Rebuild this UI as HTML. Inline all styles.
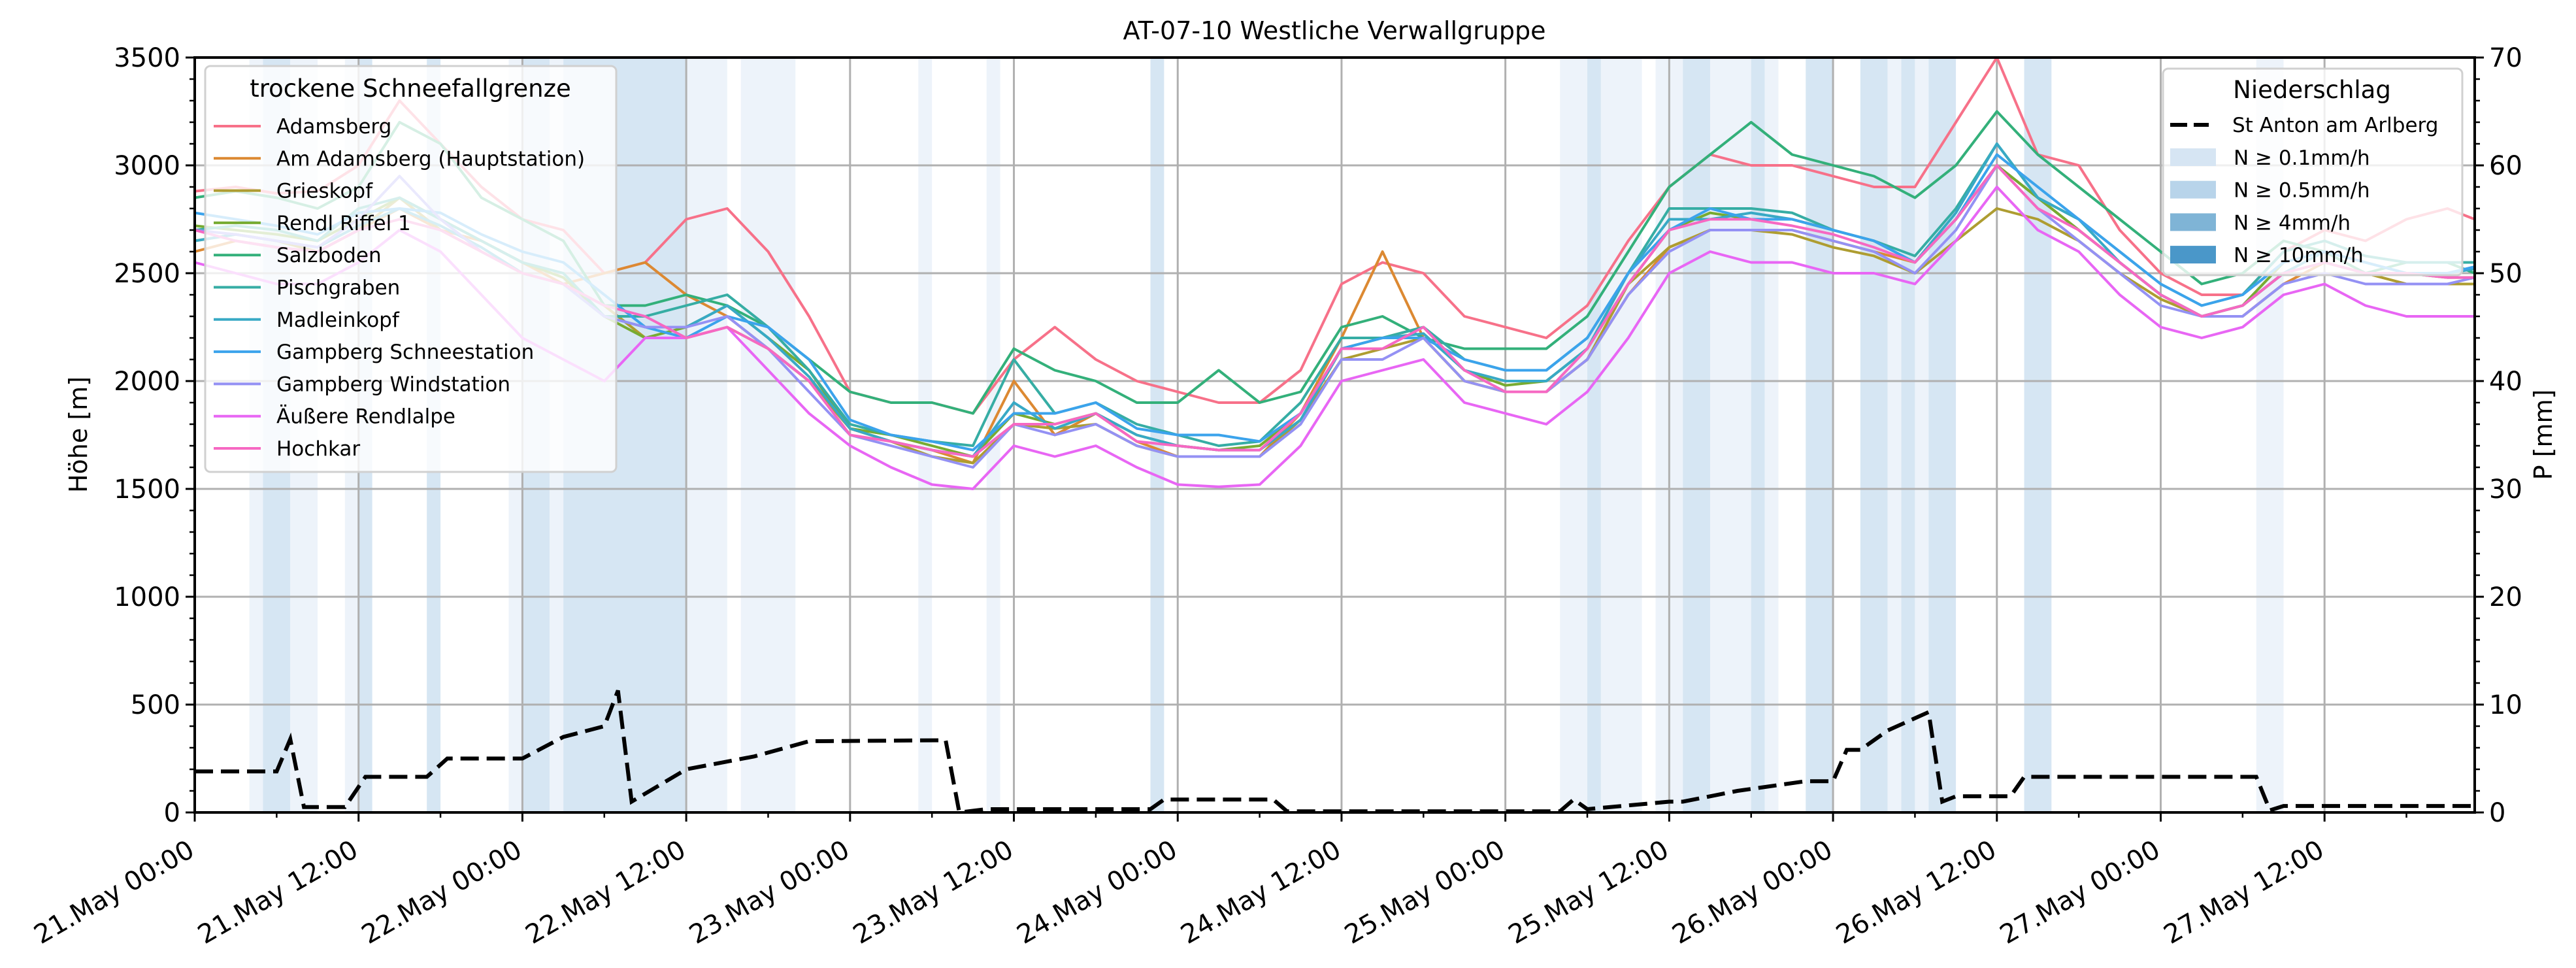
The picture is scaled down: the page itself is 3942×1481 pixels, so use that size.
<!DOCTYPE html>
<html><head><meta charset="utf-8"><style>
html,body{margin:0;padding:0;background:#fff;}
svg{display:block;font-family:"DejaVu Sans","Liberation Sans",sans-serif;}
</style></head><body>
<svg id="chart" width="3942" height="1481" viewBox="0 0 3942 1481" xmlns="http://www.w3.org/2000/svg">
<rect width="3942" height="1481" fill="#fff"/>
<g id="bands"></g>
<g id="grid"></g>
<g id="series"></g>
<g id="axes"></g>
<text x="2042" y="60" font-size="38" text-anchor="middle">AT-07-10 Westliche Verwallgruppe</text>
<text transform="translate(133,665) rotate(-90)" font-size="38" text-anchor="middle">Höhe [m]</text>
<text transform="translate(3905,665) rotate(-90)" font-size="38" text-anchor="middle">P [mm]</text>
<g id="legend1"></g>
<g id="legend2"></g>
</svg>
<script>
const hours = [0,3,6,9,12,15,18,21,24,27,30,33,36,39,42,45,48,51,54,57,60,63,66,69,72,75,78,81,84,87,90,93,96,99,102,105,108,111,114,117,120,123,126,129,132,135,138,141,144,147,150,153,156,159,162,165,168];
const stations = ["Adamsberg","Am Adamsberg (Hauptstation)","Grieskopf","Rendl Riffel 1","Salzboden","Pischgraben","Madleinkopf","Gampberg Schneestation","Gampberg Windstation","Äußere Rendlalpe","Hochkar"];
const colors = ["#f77189","#dc8932","#ae9d31","#77ab31","#33b07a","#36ada4","#38a9c5","#3ba3ec","#9491f4","#e866f4","#f668c2"];
const sAdamsberg = [2880,2900,2870,2880,3000,3300,3100,2900,2750,2700,2500,2550,2750,2800,2600,2300,1950,1900,1900,1850,2100,2250,2100,2000,1950,1900,1900,2050,2450,2550,2500,2300,2250,2200,2350,2650,2900,3050,3000,3000,2950,2900,2900,3200,3500,3050,3000,2700,2500,2400,2400,2600,2700,2650,2750,2800,2750];
const sAmAdamsberg = [2600,2650,2620,2600,2700,2800,2700,2650,2550,2450,2500,2550,2400,2300,2150,2000,1780,1720,1680,1620,2000,1750,1850,1720,1650,1650,1650,1850,2200,2600,2200,2000,1950,1950,2100,2400,2620,2700,2700,2700,2650,2600,2550,2750,3000,2850,2700,2550,2400,2300,2300,2450,2550,2500,2450,2450,2450];
const sGrieskopf = [2650,2680,2650,2600,2700,2850,2700,2600,2500,2450,2350,2200,2200,2250,2150,2000,1780,1720,1650,1620,1800,1780,1800,1700,1650,1650,1650,1820,2100,2150,2200,2000,1950,1950,2100,2450,2620,2700,2700,2680,2620,2580,2500,2650,2800,2750,2650,2500,2380,2300,2350,2500,2550,2500,2450,2450,2450];
const sRendlRiffel = [2720,2700,2680,2650,2750,2850,2750,2650,2550,2480,2300,2200,2250,2350,2200,2050,1780,1750,1700,1650,1850,1800,1850,1750,1700,1680,1700,1850,2150,2200,2250,2050,1980,2000,2150,2450,2700,2780,2750,2750,2700,2650,2550,2750,3000,2850,2700,2550,2400,2300,2350,2550,2600,2550,2500,2480,2480];
const sSalzboden = [2850,2880,2850,2800,2900,3200,3100,2850,2750,2650,2350,2350,2400,2350,2250,2100,1950,1900,1900,1850,2150,2050,2000,1900,1900,2050,1900,1950,2250,2300,2200,2150,2150,2150,2300,2600,2900,3050,3200,3050,3000,2950,2850,3000,3250,3050,2900,2750,2600,2450,2500,2650,2600,2500,2550,2550,2500];
const sPischgraben = [2700,2720,2700,2650,2800,2850,2750,2650,2550,2500,2300,2300,2350,2400,2250,2050,1800,1750,1720,1700,2100,1850,1900,1800,1750,1700,1720,1900,2200,2200,2250,2100,2050,2050,2200,2500,2800,2800,2800,2780,2700,2650,2580,2800,3100,2850,2750,2600,2450,2350,2400,2600,2650,2580,2550,2550,2550];
const sMadleinkopf = [2650,2680,2650,2620,2720,2800,2720,2620,2500,2450,2300,2250,2250,2350,2200,2020,1780,1720,1680,1650,1900,1780,1850,1750,1700,1680,1680,1820,2150,2200,2220,2050,2000,2000,2150,2500,2750,2750,2780,2750,2700,2650,2550,2780,3100,2850,2750,2550,2400,2300,2350,2500,2600,2550,2500,2500,2520];
const sGampbergSchnee = [2780,2750,2720,2680,2780,2800,2780,2680,2600,2550,2400,2250,2200,2300,2250,2100,1820,1750,1720,1680,1850,1850,1900,1780,1750,1750,1720,1850,2150,2200,2200,2100,2050,2050,2200,2500,2700,2800,2750,2750,2700,2650,2550,2750,3050,2900,2750,2600,2450,2350,2400,2550,2600,2550,2500,2500,2530];
const sGampbergWind = [2700,2680,2650,2620,2750,2950,2750,2600,2500,2450,2300,2250,2250,2300,2150,1950,1750,1700,1650,1600,1800,1750,1800,1700,1650,1650,1650,1800,2100,2100,2200,2000,1950,1950,2100,2400,2600,2700,2700,2700,2650,2600,2500,2700,3000,2800,2650,2500,2350,2300,2300,2450,2500,2450,2450,2450,2480];
const sRendlalpe = [2550,2500,2450,2450,2550,2700,2600,2400,2200,2100,2000,2200,2200,2250,2050,1850,1700,1600,1520,1500,1700,1650,1700,1600,1520,1510,1520,1700,2000,2050,2100,1900,1850,1800,1950,2200,2500,2600,2550,2550,2500,2500,2450,2650,2900,2700,2600,2400,2250,2200,2250,2400,2450,2350,2300,2300,2300];
const sHochkar = [2700,2650,2620,2600,2700,2750,2700,2600,2500,2450,2350,2300,2200,2250,2150,2000,1750,1720,1680,1650,1800,1800,1850,1720,1700,1680,1680,1850,2150,2150,2250,2050,1950,1950,2150,2450,2700,2750,2750,2720,2680,2620,2550,2750,3000,2800,2700,2550,2400,2300,2350,2500,2550,2500,2500,2480,2480];
const seriesValues = [sAdamsberg,sAmAdamsberg,sGrieskopf,sRendlRiffel,sSalzboden,sPischgraben,sMadleinkopf,sGampbergSchnee,sGampbergWind,sRendlalpe,sHochkar];
const precipT = [0,6,7,8,11,12.5,17,18.5,24,27,30,31,32,34,36,41,45,55,56,58,70,71,79,80,100,101,102,108,109,113,118,120,121,122,124,127,128,129,133,134,151,152,153,167];
const precipV = [3.8,3.8,6.8,0.5,0.5,3.3,3.3,5,5,7,8,11.3,1,2.5,4,5.2,6.6,6.7,0,0.3,0.3,1.2,1.2,0.1,0.1,1.2,0.3,1,1,2,2.9,2.9,5.8,5.8,7.6,9.3,1,1.5,1.5,3.3,3.3,0.2,0.6,0.6];
const bandStart = [4,5,7,11,12,17,23,24,26,27,36,40,53,58,70,100,102,103,107,109,111,114,115,118,122,124,125,126,127,134,151];
const bandEnd   = [5,7,9,12,13,18,24,26,27,36,39,44,54,59,71,102,103,106,109,111,114,115,116,120,124,125,126,127,129,136,153];
const bandLevel = [0,1,0,0,1,1,0,1,0,1,0,0,0,0,1,0,1,0,0,1,0,1,0,1,1,0,1,0,1,1,0];
const yTicks = [0,500,1000,1500,2000,2500,3000,3500];
const y2Ticks = [0,10,20,30,40,50,60,70];
const xTickLabels = ["21.May 00:00","21.May 12:00","22.May 00:00","22.May 12:00","23.May 00:00","23.May 12:00","24.May 00:00","24.May 12:00","25.May 00:00","25.May 12:00","26.May 00:00","26.May 12:00","27.May 00:00","27.May 12:00"];

const L=298,R=3787,T=88,B=1243,XMAX=167,YMAX=3500,PMAX=70;
const xs=t=>L+t*(R-L)/XMAX;
const ys=v=>B-v*(B-T)/YMAX;
const yp=v=>B-v*(B-T)/PMAX;
const NS="http://www.w3.org/2000/svg";
function mk(tag,attrs,parent){const e=document.createElementNS(NS,tag);for(const k in attrs)e.setAttribute(k,attrs[k]);parent.appendChild(e);return e;}
const bandCol=["#edf3fa","#d6e6f3"];
const gB=document.getElementById('bands');
bandStart.forEach((s,i)=>{const r=mk('rect',{x:xs(s),y:T,width:xs(bandEnd[i])-xs(s),height:B-T,fill:bandCol[bandLevel[i]]},gB);

});
const gG=document.getElementById('grid');
xTickLabels.forEach((l,i)=>{const x=xs(i*12);const g=mk('line',{x1:x,x2:x,y1:T,y2:B,stroke:'#b0b0b0','stroke-width':3},gG);

});
yTicks.forEach(v=>{const g=mk('line',{x1:L,x2:R,y1:ys(v),y2:ys(v),stroke:'#b0b0b0','stroke-width':3},gG);

});
const gS=document.getElementById('series');
seriesValues.forEach((vals,i)=>{const d=vals.map((v,j)=>(j?'L':'M')+xs(Math.min(hours[j],XMAX)).toFixed(1)+','+ys(v).toFixed(1)).join('');
const p=mk('path',{d:d,fill:'none',stroke:colors[i],'stroke-width':4,'stroke-linejoin':'round'},gS);

});
const pd=precipT.map((t,j)=>(j?'L':'M')+xs(t).toFixed(1)+','+yp(precipV[j]).toFixed(1)).join('');
const pl=mk('path',{d:pd,fill:'none',stroke:'#000','stroke-width':6,'stroke-dasharray':'28 12'},gS);


const gA=document.getElementById('axes');
mk('rect',{x:L,y:T,width:R-L,height:B-T,fill:'none',stroke:'#000','stroke-width':4},gA);
for(let v=0;v<=YMAX;v+=100){const major=v%500===0;mk('line',{x1:L,x2:L-(major?14:8),y1:ys(v),y2:ys(v),stroke:'#000','stroke-width':major?3:2.5},gA);}
for(let v=0;v<=PMAX;v+=2){const major=v%10===0;mk('line',{x1:R,x2:R+(major?14:8),y1:yp(v),y2:yp(v),stroke:'#000','stroke-width':major?3:2.5},gA);}
for(let t=0;t<=XMAX;t+=6){const major=t%12===0;mk('line',{x1:xs(t),x2:xs(t),y1:B,y2:B+(major?14:8),stroke:'#000','stroke-width':major?3:2.5},gA);}
yTicks.forEach(v=>{const t=mk('text',{x:L-22,y:ys(v)+14,'font-size':40,'text-anchor':'end'},gA);t.textContent=v;

});
y2Ticks.forEach(v=>{const t=mk('text',{x:R+22,y:yp(v)+14,'font-size':40},gA);t.textContent=v;

});
xTickLabels.forEach((l,i)=>{const x=xs(i*12)+2,y=1308;const t=mk('text',{x:x,y:y,'font-size':40,'text-anchor':'end',transform:`rotate(-30 ${x} ${y})`},gA);t.textContent=l;

});
const g1=document.getElementById('legend1');
mk('rect',{x:314,y:101,width:629,height:621,rx:8,fill:'rgba(255,255,255,0.8)',stroke:'#d0d0d0','stroke-width':3},g1);
const lt=mk('text',{x:628,y:148,'font-size':37,'text-anchor':'middle'},g1);lt.textContent='trockene Schneefallgrenze';
stations.forEach((s,i)=>{const y=193+i*49.3;
mk('line',{x1:327,x2:399,y1:y,y2:y,stroke:colors[i],'stroke-width':4},g1);
const t=mk('text',{x:423,y:y+11,'font-size':31},g1);t.textContent=s;

});
const g2=document.getElementById('legend2');
mk('rect',{x:3310,y:105,width:458,height:316,rx:8,fill:'rgba(255,255,255,0.8)',stroke:'#d0d0d0','stroke-width':3},g2);
const lt2=mk('text',{x:3538,y:150,'font-size':37,'text-anchor':'middle'},g2);lt2.textContent='Niederschlag';
mk('line',{x1:3321,x2:3380,y1:191,y2:191,stroke:'#000','stroke-width':6,'stroke-dasharray':'26 10'},g2);
const st=mk('text',{x:3416,y:202,'font-size':31},g2);st.textContent='St Anton am Arlberg';
const pc=["#d6e5f3","#b8d4ea","#7fb4d6","#4a97c9"],pl2=["N ≥ 0.1mm/h","N ≥ 0.5mm/h","N ≥ 4mm/h","N ≥ 10mm/h"];
pc.forEach((c,i)=>{const y=227+i*49.7;mk('rect',{x:3321,y:y,width:70,height:27,fill:c},g2);
const t=mk('text',{x:3418,y:y+25,'font-size':31},g2);t.textContent=pl2[i];

});
</script>
</body></html>
